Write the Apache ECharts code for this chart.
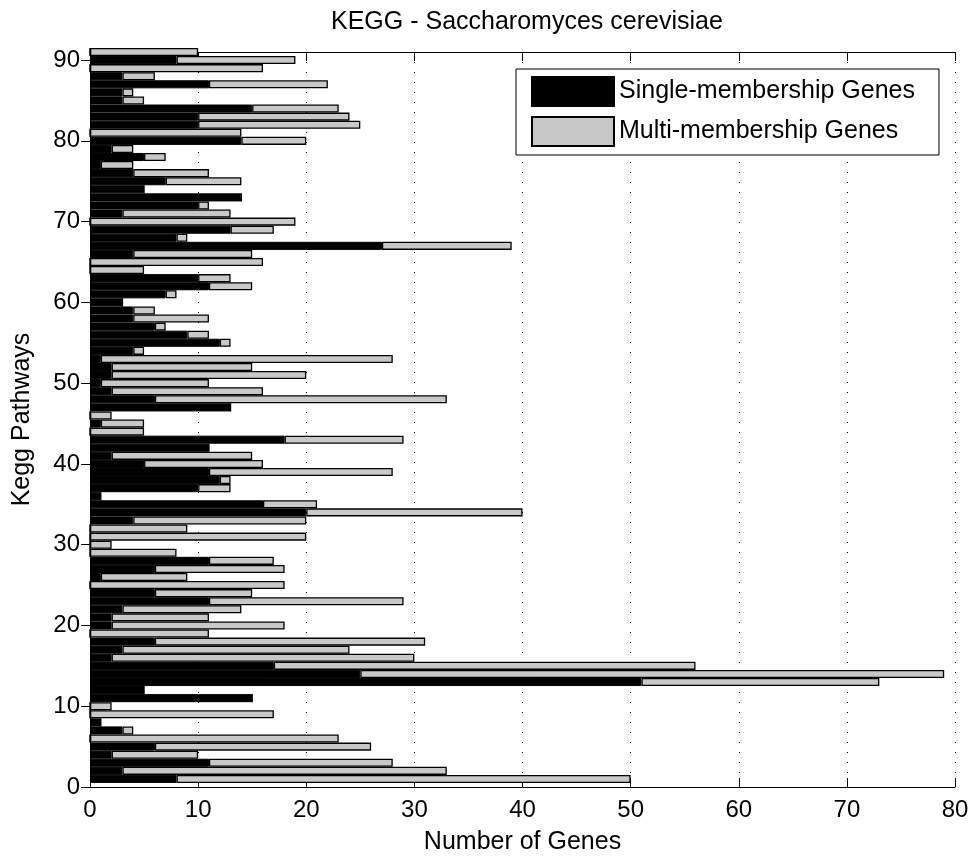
<!DOCTYPE html>
<html><head><meta charset="utf-8">
<script src="https://cdn.jsdelivr.net/npm/echarts@6/dist/echarts.min.js"></script>
<style>html,body{margin:0;padding:0;background:#fff}#chart{width:974px;height:859px}</style>
</head><body><div id="chart"></div>
<script>
// Pathway positions on the y axis (0 is an empty slot at the axis origin)
const pathwayIds = [0,1,2,3,4,5,6,7,8,9,10,11,12,13,14,15,16,17,18,19,20,21,22,23,24,25,26,27,28,29,30,31,32,33,34,35,36,37,38,39,40,41,42,43,44,45,46,47,48,49,50,51,52,53,54,55,56,57,58,59,60,61,62,63,64,65,66,67,68,69,70,71,72,73,74,75,76,77,78,79,80,81,82,83,84,85,86,87,88,89,90,91];
// Values for pathways 1..91
const singleGenes = [8,3,11,2,6,0,3,1,0,0, 15,5,51,25,17,2,3,6,0,2, 2,3,11,6,0,1,6,11,0,0, 0,0,4,20,16,1,10,12,11,5, 2,11,18,0,1,0,13,6,2,1, 2,2,1,4,12,9,6,4,4,3, 7,11,10,0,0,4,27,8,13,0, 3,10,14,5,7,4,1,5,2,14, 0,10,10,15,3,3,11,3,0,8, 0];
const multiGenes = [42,30,17,8,20,23,1,0,17,2, 0,0,22,54,39,28,21,25,11,16, 9,11,18,9,18,8,12,6,8,2, 20,9,16,20,5,0,3,1,17,11, 13,0,11,5,4,2,0,27,14,10, 18,13,27,1,1,2,1,7,2,0, 1,4,3,5,16,11,12,1,4,19, 10,1,0,0,7,7,3,2,2,6, 14,15,14,8,2,1,11,3,16,11, 10];
const seriesNames = ['Single-membership Genes', 'Multi-membership Genes'];
const titleText = 'KEGG - Saccharomyces cerevisiae';
const xName = 'Number of Genes';
const yName = 'Kegg Pathways';
const xMin = 0, xMax = 80, xStep = 10;
const yTickStep = 10, yLabelMax = 90;

const FONT = "'Liberation Sans', Arial, sans-serif";
const chart = echarts.init(document.getElementById('chart'), null, {renderer: 'canvas'});
const cats = pathwayIds.map(String);
const showY = (idx) => idx % yTickStep === 0 && idx <= yLabelMax;

chart.setOption({
  animation: false,
  backgroundColor: '#fff',
  title: {
    text: titleText, left: 326, top: 5,
    textStyle: {fontFamily: FONT, fontSize: 25, fontWeight: 'normal', color: '#000'}
  },
  legend: {
    orient: 'vertical', left: 516, top: 69,
    padding: [7, 24, 8, 15],
    itemWidth: 82, itemHeight: 29, itemGap: 9,
    icon: 'rect',
    backgroundColor: '#fff', borderColor: '#000', borderWidth: 1,
    textStyle: {fontFamily: FONT, fontSize: 25, color: '#000'},
    data: seriesNames
  },
  grid: {left: 90, right: 19, top: 52, bottom: 72, containLabel: false, outerBoundsMode: 'none'},
  xAxis: [{
    type: 'value', min: xMin, max: xMax, interval: xStep, position: 'bottom',
    name: xName, nameLocation: 'middle', nameGap: 43,
    nameTextStyle: {fontFamily: FONT, fontSize: 25, color: '#000'},
    axisLine: {show: true, lineStyle: {color: '#000', width: 1}},
    axisTick: {show: true, inside: true, length: 9, lineStyle: {color: '#000'}},
    axisLabel: {fontFamily: FONT, fontSize: 24, color: '#000', margin: 11},
    splitLine: {show: true, lineStyle: {color: '#000', width: 1, type: [1, 9]}}
  }, {
    type: 'value', min: xMin, max: xMax, interval: xStep, position: 'top',
    axisLine: {show: true, lineStyle: {color: '#000', width: 1}},
    axisTick: {show: true, inside: true, length: 9, lineStyle: {color: '#000'}},
    axisLabel: {show: false}, splitLine: {show: false}
  }],
  yAxis: [{
    type: 'category', data: cats, boundaryGap: false, position: 'left',
    name: yName, nameLocation: 'middle', nameGap: 55, nameRotate: 90,
    nameTextStyle: {fontFamily: FONT, fontSize: 25, color: '#000'},
    axisLine: {show: true, lineStyle: {color: '#000', width: 1}},
    axisTick: {show: true, inside: true, length: 9, interval: showY, lineStyle: {color: '#000'}},
    axisLabel: {fontFamily: FONT, fontSize: 24, color: '#000', margin: 10, interval: showY},
    splitLine: {show: false}
  }, {
    type: 'category', data: cats, boundaryGap: false, position: 'right',
    axisLine: {show: true, lineStyle: {color: '#000', width: 1}},
    axisTick: {show: true, inside: true, length: 9, interval: showY, lineStyle: {color: '#000'}},
    axisLabel: {show: false}, splitLine: {show: false}
  }],
  series: [{
    name: seriesNames[0], type: 'bar', stack: 'genes', xAxisIndex: 0, yAxisIndex: 0,
    barWidth: '100%', clip: true,
    itemStyle: {color: '#000', borderColor: '#000', borderWidth: 1},
    data: ['-'].concat(singleGenes)
  }, {
    name: seriesNames[1], type: 'bar', stack: 'genes', xAxisIndex: 0, yAxisIndex: 0,
    barWidth: '100%', clip: true,
    itemStyle: {color: '#c8c8c8', borderColor: '#000', borderWidth: 1.3},
    data: ['-'].concat(multiGenes)
  }]
});
</script></body></html>
